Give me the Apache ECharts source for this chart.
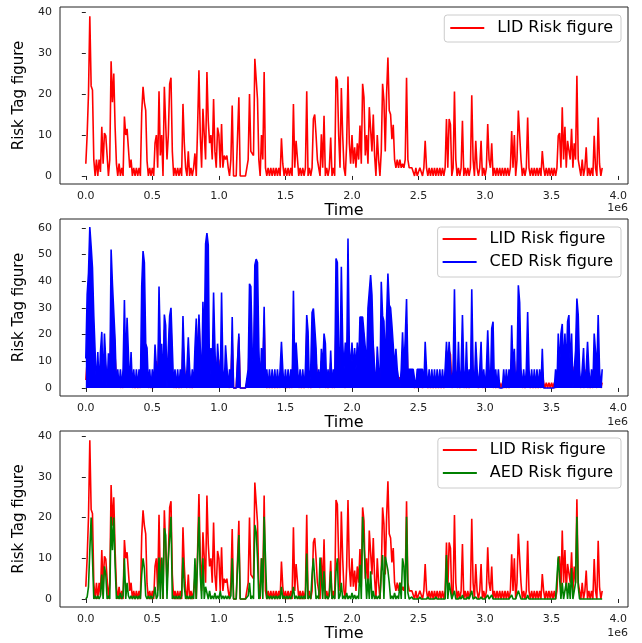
<!DOCTYPE html>
<html><head><meta charset="utf-8">
<script src="https://cdn.jsdelivr.net/npm/echarts@6/dist/echarts.min.js"></script>
<style>html,body{margin:0;padding:0;background:#fff}#c{width:642px;height:643px}</style>
</head><body><div id="c"></div>
<script>
// one sample every 1e4 time units, starting at 0
const TIME_STEP = 10000;

const lidValues = [
3,10,20,39,22,21,4,0,4,0,
4,1,12,3,10.5,9.8,5,0,4,28,
18,25,12,3,0,3,0,2,0,14.5,
10,11.5,11.5,2,4,0,2,0,2,0,
2,0,15.5,21.8,18,16,3.7,0,2,0,
2,0,8,10,2,20.7,5,10,0,21.8,
22,4,10,22.5,24,6,0,2,0,2,
0,2,0,17.6,8,2,0,6,0,2,
0,2,5.5,0,12,25.8,10,2,16.4,10,
4,25.4,13.5,8,10,4,18.8,6,2,11.8,
10,2,12.7,2,5,4,5,2,0,4,
17.2,0,0,0,0,19.2,0,0,0,0,
0,0,4,20,6,6,5,28.6,28.2,18.8,
4,0,10,4,25.4,2,0,2,0,2,
0,2,0,2,0,2,0,9.2,3,0,
2,0,2,0,2,0,17.6,2,8.6,8.6,
0,2,0,2,0,2,20.7,0,2,0,
2,13.9,15,10,4,2,0,10.2,2,14.7,
0,2,0,2,9.4,0,2,0,24.3,23.3,
10,2,21.5,10,2,0,8,24.3,8,3,
10,3,7,2,8,4,12.3,3,22.5,19.2,
5,10,3,16.8,16.8,6,15,5,0,10,
4,0,6,22.5,18.4,6,20,28.9,16,15,
9,12.5,4,2,4,2,4,2,3,2,
4,24,4,2,2,2,2,0,2,0,
0,2,2,0,2,8.6,2,0,2,0,
2,0,2,0,2,0,2,0,2,0,
2,13.9,2,13.9,12.5,0,2,20.6,4,0,
2,0,2,13.5,0,2,0,2,0,2,
19.7,4,0,8.6,2,0,2,8.6,0,2,
0,2,12.7,4,2,8,0,2,0,2,
0,2,0,2,0,2,0,2,0,2,
11,2,10,0,4,16,16.4,4,0,2,
0,2,14.3,2,0,2,0,2,0,2,
0,2,0,6.1,2,0,2,0,2,0,
2,0,2,0,2,9.8,10.5,2,16.8,4,
12,2,8.6,8.6,4,11.5,2,8,4,24.5,
4,2,0,4,0,2,7,0,2,0,
2,0,9.8,2,0,14.3,3,0,2
];

const cedValues = [
11,35,43,60.3,53,45,27,13.5,0,13.5,
0,13.5,21,0,20.4,20.4,0,13,0,51.9,
39,39,18,0,7,0,7,0,7,33,
7,26.3,26.3,0,13.5,0,7,0,7,0,
7,0,38,51.3,47,16.6,15,0,7,0,
7,0,16.3,16.6,0,38,15,16.6,0,27.5,
23.5,0,15,27,30,15,0,7,0,7,
0,7,0,27,10,0,7,19,7,0,
7,0,15,26,7,27.5,15,0,32.3,15,
54,58,53.5,0,15,7,35.8,15,0,16.6,
16.6,0,35.8,7,0,16,16,0,7,0,
26.6,0,0,0,0,20.4,0,0,0,0,
0,0,7,39,38,15,7,46,48.3,47,
15,0,15,7,30.4,0,7,0,7,0,
7,0,7,0,7,0,7,17.3,7,0,
7,0,7,0,7,0,36.4,7,17,17,
0,7,0,7,0,7,27.3,21,0,7,
28.3,29.8,22.7,15,0,7,0,14.7,7,20.4,
16.7,0,7,0,14,0,7,0,48.5,47,
15,7,45.4,17,7,17,7,56,15,7,
17,7,15,7,17,7,26.6,26.6,26.6,27,
15,7,29.8,29.8,42.3,34.8,16,7,0,15.5,
7,0,39.8,27,25,7,26,42.9,31,30,
23.5,16,7,14.7,7,7,0,7,20.9,7,
18.5,33.3,7,7,7,7,7,7,0,7,
7,7,7,7,0,17.3,7,0,7,0,
7,0,7,0,7,0,7,0,7,0,
7,17.3,7,17.3,17.3,0,7,37,7,0,
17.3,0,7,27.3,7,0,17.3,0,7,0,
37,7,0,17.3,7,0,7,17.3,0,7,
0,7,21.6,7,0,22.3,24.8,0,7,0,
7,0,0,0,7,0,7,0,7,0,
23.5,7,14.7,0,7,38.5,32,7,0,7,
0,7,28.5,7,0,7,0,7,0,7,
0,7,0,14.7,0,0,0,0,0,0,
0,0,0,7,0,20.4,7,20.4,24,7,
20.4,7,24.8,27.3,7,20.4,0,7,14,33.5,
27.3,7,0,7,15,0,7,17.3,7,0,
7,0,20.4,20,7,27.3,7,0,7
];

const aedValues = [
0,0.5,3,12,20,20,0,0.8,0,0.8,
0,0.8,6,0,8,6,0,0.8,0,20.2,
12,20,8.4,0,0.8,0,1.5,0,0.8,10,
0,4,0.8,0,0.8,0,0.8,0,0.8,0,
0.8,0,6,10,7.5,0.8,0,0.8,0,0.8,
0,0.8,3,0,0.8,10.2,0,10.2,0,17.4,
15.7,0,10,10,20.2,0,0.8,0,0.8,0,
0.8,0,0.8,10.2,3,0,0.8,0,0.8,0,
0.8,0,10,0,10,20.2,6,0,10,0,
3,1.5,0,2,0,0.8,0,1.5,0,0.8,
0,2,0,0.8,0,0.8,0,0.8,0,0.8,
10,0,0,0,0,15.7,0,0,0,0,
0,0,0.8,4,0,0.8,0,18.2,16.5,10,
0,0.8,10,0,20.2,10,0,0.8,0,0.8,
0,0.8,0,0.8,0,0.8,0,3,0,0.8,
0,0.8,0,0.8,0,0.8,3,0,0.8,0,
0.8,0,0.8,0,0.8,0,11.2,0,0.8,0,
6,10,10,0,0.8,0,10.2,10.2,0,6.8,
0,0.8,0,0.8,6.8,0,0.8,0,6.8,10,
0,0.8,4,0,0.8,0,1.5,0,0.8,0,
1.5,0,1,0,0.8,0,8.4,0,20.2,19.8,
6.8,0,5,0,6.8,0,2,0,0.8,0,
0.8,0,6.8,10.8,0,10.4,10,7,4,0,
0.8,0,1.5,0,0.8,0,4,0,10,8,
0,20.2,1.5,0,0,0.5,0,0,0,0,
0,0.5,0,0,0,0,0,0.5,0,0,
0,0,0,0.5,0,0,0,0,0,0,
0,10.8,0,4,4,0,0,2,0,0,
0,0.5,0,1,0,0,0,0.5,0,0,
2,0,0,0.5,0,0,0,0.5,0,0,
0,0,1,0,0,1,0,0,0,0,
0,0,0,0,0,0,0,0,0,0,
1,0,0,0,0,2,1,0,0,0,
0,0,1,0,0,0,0,0,0,0,
0,0,0,0,0,0,0,0,0,0,
0,0,0,0,0,10.4,10.4,0,4,0,
0,4,0,4,0,7.6,0,0,4,20.2,
3,0,0,0,0,0,0,0,0,0,
0,0,0,0,0,0,0,0,0
];

const xTickValues = [0,500000,1000000,1500000,2000000,2500000,3000000,3500000,4000000];
const yTicks40 = [0,10,20,30,40];
const yTicks60 = [0,10,20,30,40,50,60];
const seriesNames = ['LID Risk figure','CED Risk figure','AED Risk figure'];

const toPairs = arr => arr.map((v,i)=>[i*TIME_STEP, v]);

const FONT = 'DejaVu Sans';
const gridTops = [7, 219, 431];
const gridH = [177, 177, 176];

function xAxisFor(i){
  return {
    type:'value', gridIndex:i, min:-194000, max:4074000,
    axisLine:{show:false},
    splitLine:{show:false},
    axisTick:{show:true, customValues:xTickValues, length:4, lineStyle:{color:'#222', width:1}},
    axisLabel:{customValues:xTickValues, formatter:v=>(v/1e6).toFixed(1), fontSize:11, color:'#222', fontFamily:FONT, margin:7},
    name:'Time', nameLocation:'middle', nameGap:15,
    nameTextStyle:{fontSize:16, color:'#000', fontFamily:FONT}
  };
}
function yAxisFor(i, ticks, min, max){
  return {
    type:'value', gridIndex:i, min:min, max:max,
    axisLine:{show:false},
    splitLine:{show:false},
    axisTick:{show:true, customValues:ticks, length:4, lineStyle:{color:'#222', width:1}},
    axisLabel:{customValues:ticks, fontSize:11, color:'#222', fontFamily:FONT, margin:8},
    name:'Risk Tag figure', nameLocation:'middle', nameGap:27,
    nameTextStyle:{fontSize:15, color:'#000', fontFamily:FONT}
  };
}
function legendFor(top, names, pad){
  return {
    data:names, right:21, top:top, orient:'vertical', z:10,
    icon:'rect', itemWidth:34, itemHeight:2, itemGap:5,
    padding:pad, borderColor:'#cccccc', borderWidth:1, borderRadius:3,
    backgroundColor:'rgba(255,255,255,0.8)',
    textStyle:{fontSize:16, color:'#000', fontFamily:FONT, lineHeight:18, padding:[0,0,0,8]}
  };
}
function lineSeries(name, gi, values, color, z, filled){
  const s = {
    type:'line', name:name, xAxisIndex:gi, yAxisIndex:gi, z:z,
    data:toPairs(values), symbol:'none', showSymbol:false,
    lineStyle:{color:color, width:1.6}, itemStyle:{color:color},
    animation:false, silent:true
  };
  if (filled) s.areaStyle = {color:color, opacity:1, origin:0};
  return s;
}

const chart = echarts.init(document.getElementById('c'), null, {renderer:'canvas'});
chart.setOption({
  animation:false,
  backgroundColor:'#fff',
  grid: gridTops.map((t,i)=>({left:60, top:t, width:568, height:gridH[i], show:true, borderColor:'#222', borderWidth:1, backgroundColor:'transparent', containLabel:false})),
  xAxis:[xAxisFor(0), xAxisFor(1), xAxisFor(2)],
  yAxis:[yAxisFor(0, yTicks40, -1.965, 41.265), yAxisFor(1, yTicks60, -3.015, 63.315), yAxisFor(2, yTicks40, -1.965, 41.265)],
  legend:[
    legendFor(15, [seriesNames[0]], [4,8,5,6]),
    legendFor(227, [seriesNames[0], seriesNames[1]], [3,8,6,5]),
    legendFor(438, [seriesNames[0], seriesNames[2]], [3,8,6,5])
  ],
  series:[
    lineSeries(seriesNames[0], 0, lidValues, '#ff0000', 2, false),
    lineSeries(seriesNames[0], 1, lidValues, '#ff0000', 2, false),
    lineSeries(seriesNames[1], 1, cedValues, '#0000ff', 3, true),
    lineSeries(seriesNames[0], 2, lidValues, '#ff0000', 2, false),
    lineSeries(seriesNames[2], 2, aedValues, '#008000', 3, false)
  ],
  graphic:[
    {type:'text', right:14, top:203, style:{text:'1e6', font:'11px "DejaVu Sans"', fill:'#222'}},
    {type:'text', right:14, top:417, style:{text:'1e6', font:'11px "DejaVu Sans"', fill:'#222'}},
    {type:'text', right:14, top:628, style:{text:'1e6', font:'11px "DejaVu Sans"', fill:'#222'}}
  ]
});
</script>
</body></html>
